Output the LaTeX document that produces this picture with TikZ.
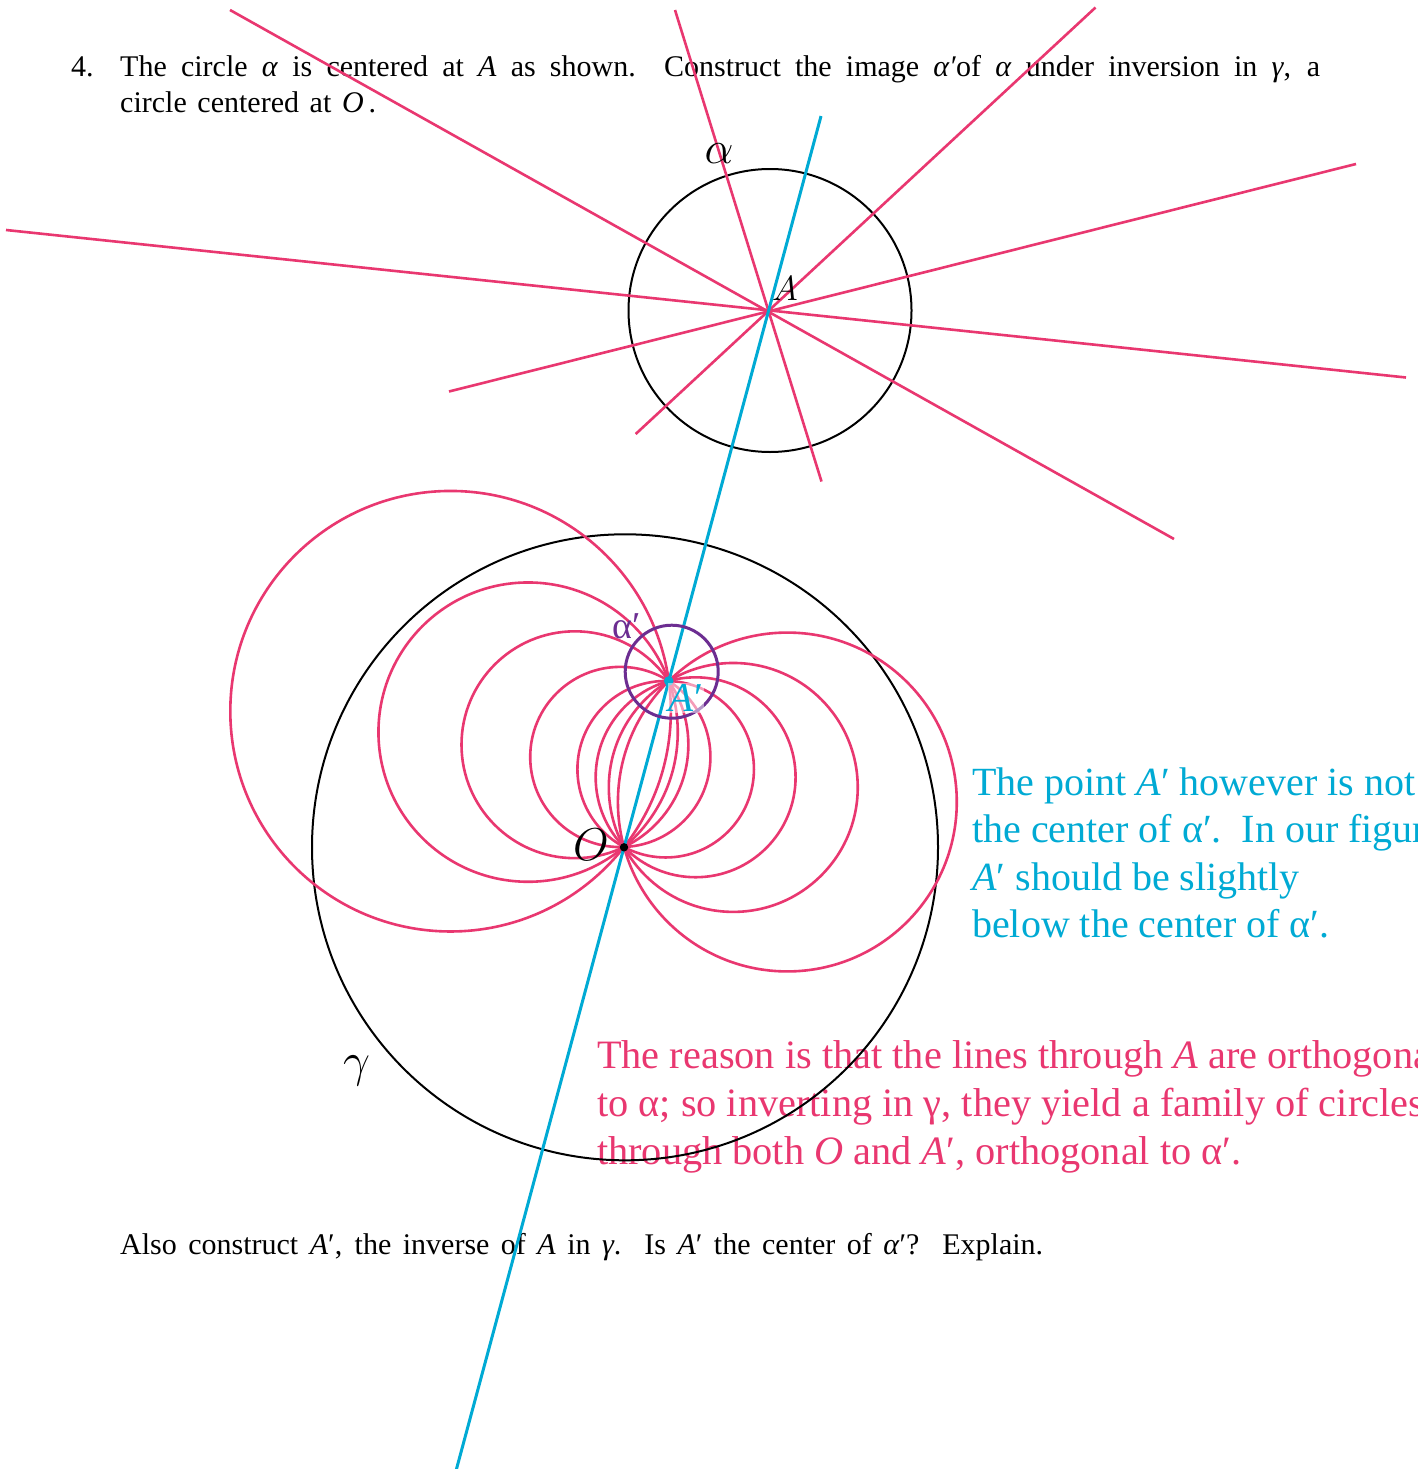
\RequirePackage{fix-cm}
\documentclass[tikz,border=0pt]{standalone}
\usepackage{fontspec}
\setmainfont{Liberation Serif}
\usetikzlibrary{calc}
\definecolor{pk}{RGB}{233,55,112}
\definecolor{cy}{RGB}{0,170,212}
\definecolor{pu}{RGB}{108,45,145}
\begin{document}
\begin{tikzpicture}[x=1pt,y=-1pt,
  pinkline/.style={draw=pk,line width=2.6pt},
  blackcirc/.style={draw=black,line width=2pt},
  cyanline/.style={draw=cy,line width=3pt},
  purplecirc/.style={draw=pu,line width=3pt},
  txt/.style={anchor=base west,inner sep=0pt,font=\fontsize{30}{36}\selectfont},
  cytxt/.style={anchor=base west,inner sep=0pt,text=cy,font=\fontsize{40}{48}\selectfont},
  pktxt/.style={anchor=base west,inner sep=0pt,text=pk,font=\fontsize{40.3}{48}\selectfont},
  mlabel/.style={inner sep=0pt}
]
\clip (0,0) rectangle (1417,1469);
\fill[white] (0,0) rectangle (1417,1469);

% key points
\coordinate (A) at (768.5,311);
\coordinate (O) at (624,847.3);
\coordinate (Ap) at (668.75,681);

% texts
\node[txt] (n4) at (71,77) {4.};
\node[txt] (t1) at (120,77) {\makebox[1200pt][s]{The circle \textit{α} is centered at \textit{A} as shown.\ \ Construct the image \textit{α′}of \textit{α} under inversion in \textit{γ}, a}};
\node[txt] (t2) at (120,113) {\makebox[256pt][s]{circle centered at \textit{O}\,.}};
\node[txt] (t3) at (120,1254) {\makebox[923pt][s]{Also construct \textit{A}′, the inverse of \textit{A} in \textit{γ}.\ \ Is \textit{A}′ the center of \textit{α}′?\ \ Explain.}};

\node[cytxt] (c1) at (972,795) {The point \textit{A}′ however is not};
\node[cytxt] (c2) at (972,842.5) {the center of α′.\ \ In our figure,};
\node[cytxt] (c3) at (972,890) {\textit{A}′ should be slightly};
\node[cytxt] (c4) at (972,937.5) {below the center of α′.};

\node[pktxt] (p1) at (597,1068) {The reason is that the lines through \textit{A} are orthogonal};
\node[pktxt] (p2) at (597,1116) {to α; so inverting in γ, they yield a family of circles};
\node[pktxt] (p3) at (597,1164) {through both \textit{O} and \textit{A}′, orthogonal to α′.};

% circles alpha and gamma
\draw[blackcirc] (770,310.5) circle[radius=141.5pt];
\draw[blackcirc] (625,847.3) circle[radius=313pt];

% lines through A
\coordinate (l1a) at (230,10);   \coordinate (l1b) at (1174,539);
\coordinate (l2a) at (675,10);   \coordinate (l2b) at (821.5,481.5);
\coordinate (l3a) at (1095.5,7.5); \coordinate (l3b) at (635.7,434);
\coordinate (l4a) at (1356,164); \coordinate (l4b) at (449,391.5);
\coordinate (l5a) at (6,230);    \coordinate (l5b) at (1406,377.5);
\foreach \n in {1,...,5}{\draw[pinkline] (l\n a) -- (l\n b);}

% family of circles through O and A'
\foreach \t in {-202.8,-122.5,-74,-27,20,51,90,146}{
  \pgfmathsetmacro\cx{646.375+0.96553*\t}
  \pgfmathsetmacro\cy{764+0.26029*\t}
  \pgfmathsetmacro\R{10*sqrt((\t/10)*(\t/10)+73.896)}
  \draw[pinkline] (\cx,\cy) circle[radius=\R pt];
}

% line OA
\draw[cyanline] ($(O)!-1.18!(A)$) -- ($(O)!1.3635!(A)$);

% alpha'
\draw[purplecirc] (671.7,671.7) circle[radius=46.5pt];

% dots
\fill[black] (O) circle[radius=4.2pt];
\fill[cy] (Ap) circle[radius=4.8pt];

% labels
\node[mlabel,font=\fontsize{46}{46}\selectfont] (alab) at (719,154) {$\alpha$};
\node[mlabel,font=\fontsize{35}{35}\selectfont] (Alab) at (785,289) {$A$};
\node[mlabel,font=\fontsize{46}{46}\selectfont] (Olab) at (591,845) {$O$};
\node[mlabel,font=\fontsize{48}{48}\selectfont] (glab) at (357,1071) {$\gamma$};
\node[mlabel,text=pu,font=\fontsize{38}{38}\selectfont] (aplab) at (627,626) {α′};
\node[mlabel,text=cy,fill=white,fill opacity=0.5,text opacity=1,inner sep=1pt,font=\fontsize{41}{41}\selectfont] (Aplab) at (686,698) {\textit{A}′};
\end{tikzpicture}
\end{document}
